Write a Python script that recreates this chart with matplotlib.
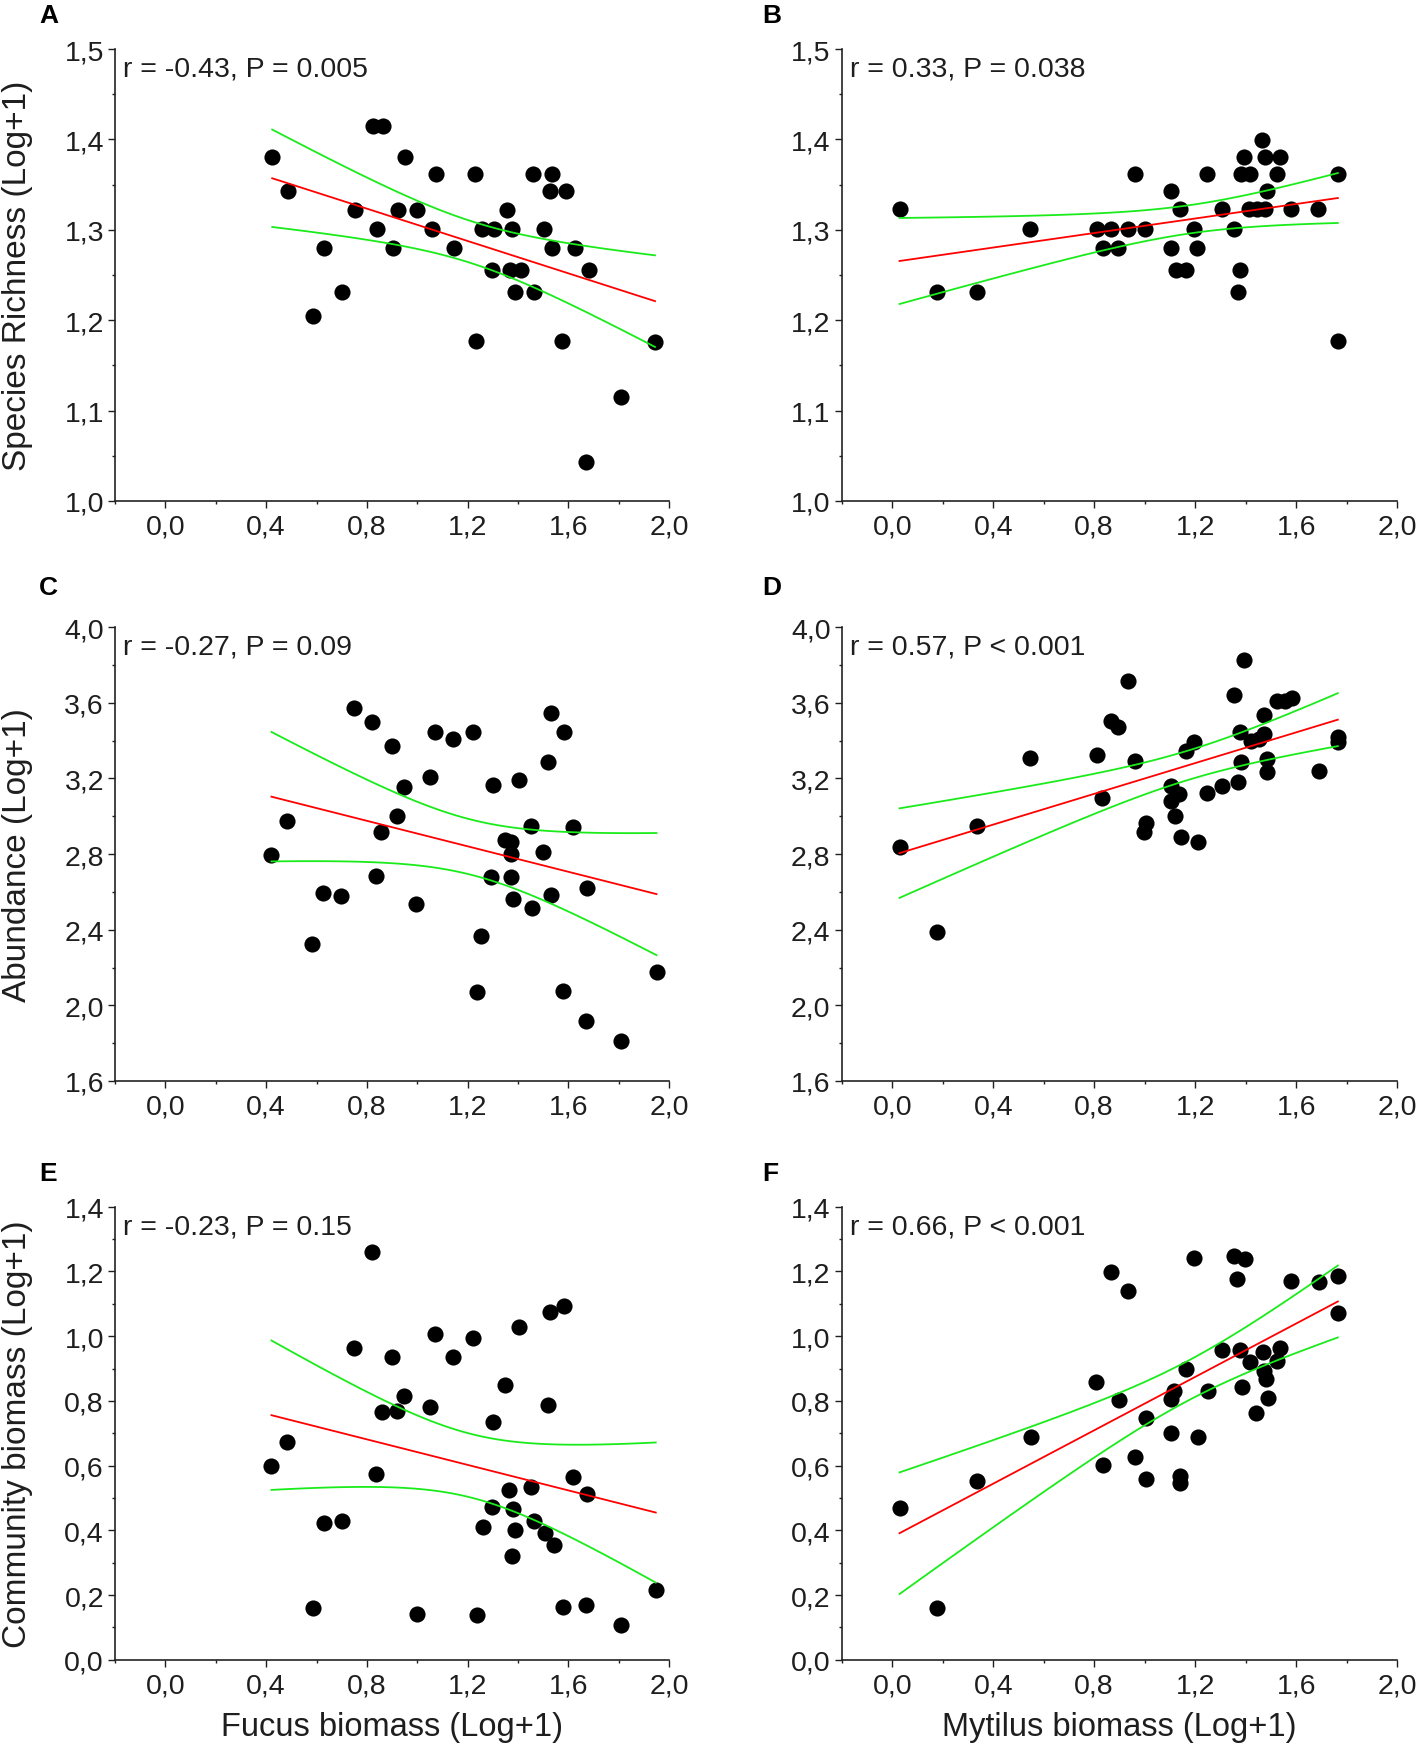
import matplotlib
matplotlib.use("Agg")
import matplotlib.pyplot as plt
from matplotlib.ticker import MultipleLocator, FuncFormatter
import numpy as np

plt.rcParams['font.family'] = ['Liberation Sans', 'DejaVu Sans']

# A: Fucus vs species richness
fucus_a = [0.424, 0.487, 0.587, 0.629, 0.702, 0.752, 0.825, 0.865, 0.842, 0.905,
           0.925, 0.952, 1.000, 1.057, 1.074, 1.147, 1.228, 1.233, 1.258, 1.306,
           1.297, 1.355, 1.377, 1.368, 1.411, 1.388, 1.458, 1.464, 1.505, 1.536,
           1.527, 1.536, 1.591, 1.576, 1.625, 1.682, 1.807, 1.669, 1.944]
rich_a = [1.380, 1.343, 1.205, 1.280, 1.231, 1.322, 1.415, 1.415, 1.301, 1.280,
          1.322, 1.380, 1.322, 1.301, 1.362, 1.280, 1.362, 1.177, 1.301, 1.301,
          1.256, 1.322, 1.301, 1.256, 1.256, 1.231, 1.362, 1.231, 1.301, 1.362,
          1.343, 1.280, 1.343, 1.177, 1.280, 1.256, 1.115, 1.043, 1.176]

# B: Mytilus vs species richness
myt_b = [0.029, 0.178, 0.334, 0.547, 0.811, 0.834, 0.867, 0.894, 0.934, 0.960,
         1.000, 1.106, 1.106, 1.125, 1.141, 1.164, 1.194, 1.207, 1.247, 1.306,
         1.352, 1.376, 1.368, 1.395, 1.383, 1.418, 1.412, 1.445, 1.464, 1.475,
         1.477, 1.536, 1.523, 1.484, 1.580, 1.688, 1.765, 1.765]
rich_b = [1.323, 1.231, 1.231, 1.301, 1.301, 1.280, 1.301, 1.280, 1.301, 1.362,
          1.301, 1.343, 1.280, 1.256, 1.323, 1.256, 1.301, 1.280, 1.362, 1.323,
          1.301, 1.256, 1.231, 1.380, 1.362, 1.362, 1.323, 1.323, 1.399, 1.380,
          1.323, 1.380, 1.362, 1.343, 1.323, 1.323, 1.362, 1.177]

# C: Fucus vs abundance
fucus_c = [0.421, 0.484, 0.583, 0.626, 0.698, 0.749, 0.821, 0.838, 0.857, 0.900,
           0.920, 0.948, 0.995, 1.050, 1.069, 1.142, 1.222, 1.254, 1.236, 1.300,
           1.291, 1.349, 1.372, 1.372, 1.372, 1.382, 1.405, 1.455, 1.452, 1.498,
           1.521, 1.530, 1.530, 1.584, 1.618, 1.675, 1.579, 1.670, 1.807, 1.950]
abund_c = [2.795, 2.977, 2.325, 2.594, 2.580, 3.571, 3.501, 2.686, 2.915, 3.374,
           3.000, 3.157, 2.536, 3.210, 3.444, 3.409, 3.444, 2.369, 2.069, 3.168,
           2.681, 2.875, 2.862, 2.801, 2.677, 2.563, 3.194, 2.513, 2.951, 2.810,
           3.289, 3.547, 2.586, 3.448, 2.945, 2.619, 2.077, 1.919, 1.813, 2.175]

# D: Mytilus vs abundance
myt_d = [0.029, 0.178, 0.334, 0.547, 0.811, 0.831, 0.867, 0.894, 0.933, 0.960,
         0.996, 1.005, 1.106, 1.135, 1.106, 1.119, 1.144, 1.210, 1.164, 1.197,
         1.247, 1.306, 1.368, 1.352, 1.394, 1.376, 1.383, 1.420, 1.451, 1.471,
         1.471, 1.484, 1.484, 1.524, 1.557, 1.583, 1.689, 1.765, 1.765]
abund_d = [2.836, 2.390, 2.951, 3.307, 3.325, 3.095, 3.506, 3.471, 3.713, 3.291,
           2.919, 2.965, 3.159, 3.118, 3.083, 3.004, 2.889, 2.862, 3.347, 3.395,
           3.122, 3.159, 3.180, 3.642, 3.827, 3.444, 3.289, 3.397, 3.409, 3.435,
           3.538, 3.303, 3.236, 3.612, 3.612, 3.624, 3.241, 3.418, 3.392]

# E: Fucus vs community biomass
fucus_e = [0.821, 0.749, 0.900, 1.069, 1.142, 1.222, 1.402, 1.527, 1.584, 1.349,
           1.518, 0.947, 0.858, 0.918, 1.050, 1.300, 0.484, 0.421, 0.838, 1.620,
           1.451, 1.366, 1.675, 1.297, 1.379, 0.630, 0.701, 1.262, 1.465, 1.388,
           1.506, 1.541, 1.376, 1.947, 0.587, 1.000, 1.236, 1.579, 1.670, 1.807]
bio_e = [1.259, 0.962, 0.935, 1.007, 0.935, 0.993, 1.027, 1.076, 1.092, 0.849,
         0.788, 0.816, 0.765, 0.770, 0.780, 0.736, 0.674, 0.600, 0.574, 0.564,
         0.533, 0.526, 0.512, 0.473, 0.466, 0.423, 0.430, 0.411, 0.430, 0.402,
         0.392, 0.356, 0.322, 0.217, 0.160, 0.142, 0.140, 0.162, 0.170, 0.109]

# F: Mytilus vs community biomass
myt_f = [0.029, 0.178, 0.336, 0.550, 0.809, 0.833, 0.867, 0.898, 0.933, 0.962,
         1.004, 1.006, 1.106, 1.116, 1.106, 1.140, 1.138, 1.165, 1.194, 1.210,
         1.250, 1.306, 1.352, 1.397, 1.366, 1.376, 1.386, 1.416, 1.441, 1.470,
         1.534, 1.524, 1.472, 1.480, 1.487, 1.580, 1.689, 1.765, 1.765]
bio_f = [0.468, 0.160, 0.553, 0.689, 0.857, 0.603, 1.197, 0.804, 1.138, 0.627,
         0.559, 0.748, 0.806, 0.830, 0.702, 0.567, 0.545, 0.898, 1.240, 0.687,
         0.830, 0.958, 1.247, 1.237, 1.178, 0.956, 0.844, 0.919, 0.764, 0.950,
         0.963, 0.924, 0.893, 0.868, 0.808, 1.171, 1.166, 1.185, 1.071]

letters = ['A', 'B', 'C', 'D', 'E', 'F']
stats = ['r = -0.43, P = 0.005', 'r = 0.33, P = 0.038',
         'r = -0.27, P = 0.09', 'r = 0.57, P < 0.001',
         'r = -0.23, P = 0.15', 'r = 0.66, P < 0.001']
ylabels = ['Species Richness (Log+1)', 'Abundance (Log+1)', 'Community biomass (Log+1)']
xlabels = ['Fucus biomass (Log+1)', 'Mytilus biomass (Log+1)']

xs = [fucus_a, myt_b, fucus_c, myt_d, fucus_e, myt_f]
ys = [rich_a, rich_b, abund_c, abund_d, bio_e, bio_f]
ylims = [(1.0, 1.5, 0.1), (1.6, 4.0, 0.4), (0.0, 1.4, 0.2)]

fig = plt.figure(figsize=(14.17, 17.49), dpi=100)

lefts = [0.0812, 0.594]
widths = [0.391, 0.392]
bottoms = [0.7130, 0.3814, 0.0504]
heights = [0.2584, 0.2594, 0.2591]
letter_x = [0.0275, 0.538]
letter_y = [0.9909, 0.6638, 0.3288]

comma = FuncFormatter(lambda v, p: ('%.1f' % v).replace('.', ','))
txt = '#1e1e1e'
t95 = 2.026  # t value, df about 37

for k in range(6):
    row, col = k // 2, k % 2
    ax = fig.add_axes([lefts[col], bottoms[row], widths[col], heights[row]])
    x = np.array(xs[k])
    y = np.array(ys[k])

    ax.scatter(x, y, s=135, color='black', zorder=2, linewidths=0)

    # linear fit with 95% confidence band of the mean
    n = len(x)
    b, a = np.polyfit(x, y, 1)
    resid = y - (a + b * x)
    s = np.sqrt(np.sum(resid ** 2) / (n - 2))
    xg = np.linspace(x.min(), x.max(), 100)
    yg = a + b * xg
    se = s * np.sqrt(1.0 / n + (xg - x.mean()) ** 2 / np.sum((x - x.mean()) ** 2))
    ax.plot(xg, yg, color='#ff0000', lw=1.3, zorder=3)
    ax.plot(xg, yg + t95 * se, color='#1aeb1a', lw=1.3, zorder=3)
    ax.plot(xg, yg - t95 * se, color='#1aeb1a', lw=1.3, zorder=3)

    lo, hi, step = ylims[row]
    ax.set_xlim(-0.2, 2.0)
    ax.set_ylim(lo, hi)
    ax.xaxis.set_major_locator(MultipleLocator(0.4))
    ax.xaxis.set_minor_locator(MultipleLocator(0.2))
    ax.yaxis.set_major_locator(MultipleLocator(step))
    ax.yaxis.set_minor_locator(MultipleLocator(step / 2))
    ax.xaxis.set_major_formatter(comma)
    ax.yaxis.set_major_formatter(comma)

    for sp in ['top', 'right']:
        ax.spines[sp].set_visible(False)
    for sp in ['left', 'bottom']:
        ax.spines[sp].set_linewidth(1.2)
        ax.spines[sp].set_color('#222222')
    ax.tick_params(which='major', length=5, width=1.0, labelsize=20.5, colors=txt, pad=3)
    ax.tick_params(which='minor', length=2.5, width=1.0, colors=txt)
    ax.tick_params(axis='x', which='major', pad=4)

    ax.annotate(stats[k], xy=(0, 1), xycoords='axes fraction', xytext=(6, -14),
                textcoords='offset points', fontsize=20.5, color=txt, va='center', ha='left')

    fig.text(letter_x[col], letter_y[row], letters[k], fontsize=19, fontweight='bold',
             va='center', ha='left', color='black')

    if col == 0:
        ax.set_ylabel(ylabels[row], fontsize=24, color=txt)
        ax.yaxis.set_label_coords(-0.176, 0.5)
        ax.yaxis.label.set_va('center')
    if row == 2:
        ax.set_xlabel(xlabels[col], fontsize=23.5, color=txt)
        ax.xaxis.set_label_coords(0.5, -0.148)
        ax.xaxis.label.set_va('center')

plt.savefig('out.png', dpi=100)
